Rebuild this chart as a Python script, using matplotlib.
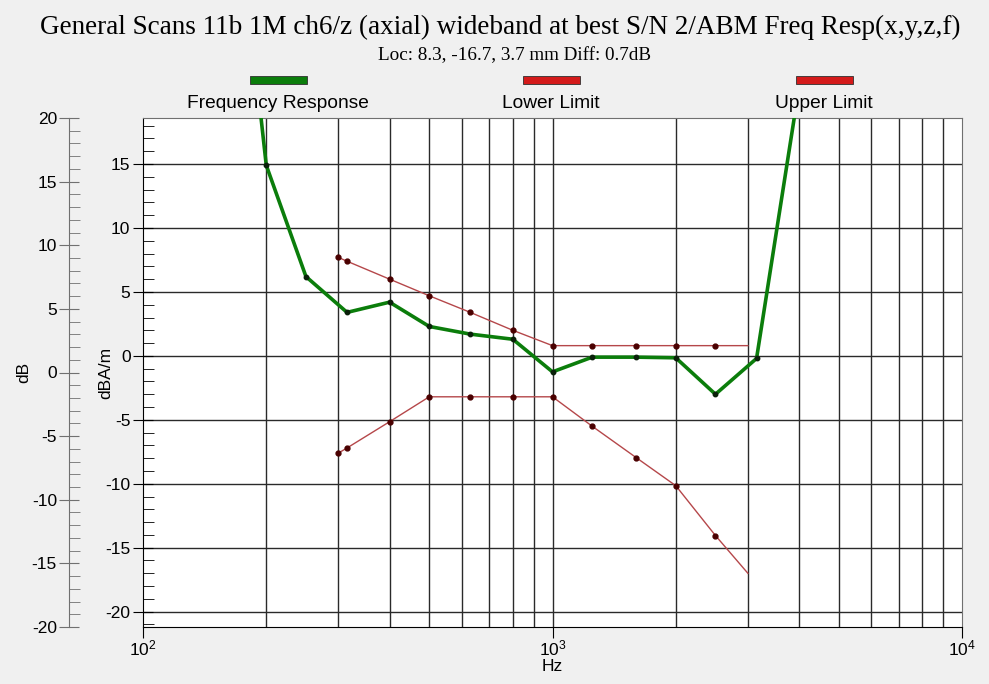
import matplotlib.pyplot as plt
from matplotlib.patches import Rectangle
from matplotlib.ticker import MultipleLocator, NullLocator, LogLocator, NullFormatter

# values (dBA/m scale)
resp_freq = [160, 200, 250, 315, 400, 500, 630, 800, 1000, 1250, 1600, 2000, 2500, 3150, 4000]
resp_val = [43, 14.9, 6.2, 3.4, 4.2, 2.3, 1.7, 1.3, -1.25, -0.1, -0.1, -0.15, -3.0, -0.2, 21]

limit_freq = [300, 315, 400, 500, 630, 800, 1000, 1250, 1600, 2000, 2500, 3000]
upper_val = [7.7, 7.4, 6.0, 4.7, 3.4, 2.0, 0.8, 0.8, 0.8, 0.8, 0.8, 0.8]
lower_val = [-7.6, -7.2, -5.15, -3.2, -3.2, -3.2, -3.2, -5.5, -7.95, -10.15, -14.05, -17.0]

legend_names = ["Frequency Response", "Lower Limit", "Upper Limit"]
legend_colors = ["#0b7d0b", "#d41a1a", "#d41a1a"]

title = "General Scans 11b 1M ch6/z (axial) wideband at best S/N 2/ABM Freq Resp(x,y,z,f)"
subtitle = "Loc: 8.3, -16.7, 3.7 mm Diff: 0.7dB"

plt.rcParams["font.family"] = ["Liberation Sans", "DejaVu Sans"]
plt.rcParams["axes.unicode_minus"] = False

fig = plt.figure(figsize=(9.89, 6.84), dpi=100)
fig.patch.set_facecolor("#f0f0f0")

pos = [143 / 989, 1 - 627 / 684, (962 - 143) / 989, (627 - 118) / 684]
ax = fig.add_axes(pos)
ax.set_facecolor("white")

ax.set_xscale("log")
ax.set_xlim(100, 10000)
ax.set_ylim(-21.2, 18.6)

grid_kw = dict(color="#2a2a2a", lw=1.0, zorder=1)
for dec in (100, 1000):
    for m in range(1, 10):
        f = dec * m
        if 100 < f < 10000:
            ax.axvline(f, **grid_kw)
for v in range(-20, 20, 5):
    ax.axhline(v, **grid_kw)

ax.plot(limit_freq, upper_val, color="#b5474a", lw=1.0, marker="o", ms=3.5,
        mfc="#4a0000", mec="#4a0000", markevery=slice(0, len(limit_freq) - 1), zorder=3)
ax.plot(limit_freq, lower_val, color="#b5474a", lw=1.0, marker="o", ms=3.5,
        mfc="#4a0000", mec="#4a0000", markevery=slice(0, len(limit_freq) - 1), zorder=3)
ax.plot(resp_freq, resp_val, color="#0b7d0b", lw=2.6, marker="o", ms=3.2,
        mfc="#0a200a", mec="#0a200a", zorder=4)

ax.xaxis.set_major_locator(LogLocator(base=10, numticks=5))
ax.xaxis.set_minor_locator(NullLocator())
ax.xaxis.set_minor_formatter(NullFormatter())
ax.tick_params(axis="x", which="major", direction="out", length=8, labelsize=12.5, pad=0)

ax.yaxis.set_major_locator(MultipleLocator(5))
ax.yaxis.set_minor_locator(MultipleLocator(1))
ax.tick_params(axis="y", which="major", direction="inout", length=14, labelsize=12.5, pad=2)
ax.tick_params(axis="y", which="minor", direction="in", length=8)
for s in ax.spines.values():
    s.set_color("#707070")
ax.spines["left"].set_color("black")
ax.spines["bottom"].set_color("black")

ax.set_xlabel("Hz", fontsize=12.5, labelpad=1)
ax.set_ylabel("dBA/m", fontsize=12.5, labelpad=-6)

# outer dB axis
ax2 = fig.add_axes(pos)
ax2.patch.set_visible(False)
ax2.set_ylim(-20, 20)
ax2.set_xticks([])
for k in ("top", "right", "bottom"):
    ax2.spines[k].set_visible(False)
ax2.spines["left"].set_position(("outward", 53))
ax2.spines["left"].set_color("#707070")
ax2.yaxis.set_major_locator(MultipleLocator(5))
ax2.yaxis.set_minor_locator(MultipleLocator(1))
ax2.tick_params(axis="y", which="major", direction="inout", length=14, labelsize=12.5, pad=2, color="#707070")
ax2.tick_params(axis="y", which="minor", direction="in", length=8, color="#707070")
ax2.set_ylabel("dB", fontsize=12.5, labelpad=0)

# legend drawn above the plot
for i, (name, col) in enumerate(zip(legend_names, legend_colors)):
    cx = (278 + 273 * i) / 989
    fig.add_artist(Rectangle((cx - 28 / 989, 1 - 84 / 684), 57 / 989, 8 / 684,
                             transform=fig.transFigure, facecolor=col,
                             edgecolor="#303030", lw=0.6))
    fig.text(cx, 1 - 103 / 684, name, ha="center", va="center", fontsize=13.8)

fig.text(0.506, 1 - 27 / 684, title, ha="center", va="center", fontsize=19.5,
         family="Liberation Serif")
fig.text(0.52, 1 - 56 / 684, subtitle, ha="center", va="center", fontsize=13.8,
         family="Liberation Serif")

fig.savefig("out.png", dpi=100, facecolor=fig.get_facecolor())
